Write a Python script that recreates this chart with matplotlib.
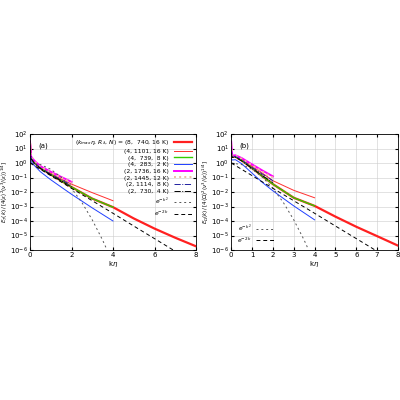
import matplotlib.pyplot as plt
import numpy as np

# k*eta sample points and spectra
k8 = [0, 0.05, 0.2, 0.5, 1, 1.5, 2, 3, 4, 5, 6, 7, 8]
k4 = [0, 0.05, 0.2, 0.5, 1, 1.5, 2, 3, 4]
k2 = [0, 0.05, 0.2, 0.5, 1, 1.5, 2]

# panel (a)
a_8_740 = [20, 2.2, 1.1, 0.45, 0.16, 0.06, 0.022, 3.5e-3, 9e-4, 1.5e-4, 3e-5, 7e-6, 1.8e-6]
a_4_1101 = [25, 2.5, 1.3, 0.5, 0.2, 0.08, 0.035, 9e-3, 2.5e-3]
a_4_739 = [20, 2.2, 1.1, 0.45, 0.16, 0.06, 0.022, 3.5e-3, 9e-4]
a_4_283 = [6, 1.3, 0.7, 0.25, 0.07, 0.022, 7e-3, 8e-4, 1e-4]
a_2_1736 = [30, 2.8, 1.5, 0.6, 0.25, 0.11, 0.05]
a_2_1445 = [25, 2.6, 1.4, 0.55, 0.22, 0.1, 0.045]
a_2_1114 = [15, 2.2, 1.1, 0.45, 0.17, 0.07, 0.03]
a_2_730 = [10, 2.0, 1.0, 0.42, 0.15, 0.06, 0.022]

# panel (b)
b_8_740 = [3, 2.6, 2.8, 1.5, 0.45, 0.12, 0.035, 4e-3, 1.1e-3, 2e-4, 4e-5, 9e-6, 2e-6]
b_4_1101 = [4, 3.0, 3.2, 1.8, 0.6, 0.2, 0.06, 1.3e-2, 4e-3]
b_4_739 = [3, 2.6, 2.8, 1.5, 0.45, 0.12, 0.035, 4e-3, 1.1e-3]
b_4_283 = [2, 1.6, 1.7, 0.9, 0.2, 0.045, 1.2e-2, 1.1e-3, 1.2e-4]
b_2_1736 = [30, 3.2, 3.4, 2.2, 0.8, 0.3, 0.12]
b_2_1445 = [20, 3.0, 3.2, 2.0, 0.7, 0.25, 0.1]
b_2_1114 = [10, 2.6, 2.8, 1.6, 0.5, 0.17, 0.06]
b_2_730 = [5, 2.4, 2.5, 1.4, 0.42, 0.13, 0.045]

# reference lines
kg = [0, 0.5, 1, 1.5, 2, 2.5, 3, 3.5, 3.7]
gauss = [1, 0.78, 0.37, 0.105, 0.018, 1.9e-3, 1.2e-4, 4.8e-6, 1.1e-6]
ke = [0, 1, 2, 3, 4, 5, 6, 6.9]
expo = [1, 0.135, 0.018, 2.5e-3, 3.4e-4, 4.5e-5, 6.1e-6, 1e-6]

labels = [r'$(k_{max}\eta,\,R_\lambda,\,N)$ = (8,  740, 16 K)',
          '(4, 1101, 16 K)', '(4,  739,  8 K)', '(4,  283,  2 K)',
          '(2, 1736, 16 K)', '(2, 1445, 12 K)', '(2, 1114,  8 K)',
          '(2,  730,  4 K)']
styles = [dict(color='#ff2020', lw=1.6),
          dict(color='#ff3030', lw=0.7),
          dict(color='#33cc00', lw=1.0),
          dict(color='#2040ff', lw=0.7),
          dict(color='#ff00ff', lw=1.4),
          dict(color='#f0c0a0', lw=1.4, ls=':'),
          dict(color='#2020a0', lw=0.7, ls='-.'),
          dict(color='black', lw=0.7, ls='-.')]

plt.rcParams['font.size'] = 5
fig = plt.figure(figsize=(4, 4), dpi=100)
ax1 = fig.add_axes([0.075, 0.375, 0.415, 0.29])
ax2 = fig.add_axes([0.578, 0.375, 0.417, 0.29])

sets = [(ax1, [a_8_740, a_4_1101, a_4_739, a_4_283, a_2_1736, a_2_1445, a_2_1114, a_2_730]),
        (ax2, [b_8_740, b_4_1101, b_4_739, b_4_283, b_2_1736, b_2_1445, b_2_1114, b_2_730])]
for ax, series in sets:
    ks = [k8, k4, k4, k4, k2, k2, k2, k2]
    for k, y, lab, st in zip(ks, series, labels, styles):
        ax.plot(k, y, label=lab, **st)
    ax.plot(kg, gauss, color='#555555', lw=0.7, ls=(0, (2, 3)), label=r'$e^{-k^2}$')
    ax.plot(ke, expo, color='black', lw=0.7, ls=(0, (4, 3)), label=r'$e^{-2k}$')
    ax.set_yscale('log')
    ax.set_xlim(0, 8)
    ax.set_ylim(1e-6, 1e2)
    ax.set_xlabel(r'k$\eta$', labelpad=1)
    ax.tick_params(direction='in', length=2, pad=1.5, which='both', top=True, right=True)
    ax.tick_params(which='minor', length=0)
    ax.grid(True, color='#cccccc', lw=0.4)
    for s in ax.spines.values():
        s.set_linewidth(0.6)

ax1.set_ylabel(r'$E_T(k)\,/\,[4\langle\epsilon\rangle^2(\nu^3/\langle\epsilon\rangle)^{1/4}]$',
               labelpad=0.3, fontsize=4.0)
ax2.set_ylabel(r'$E_\Omega(k)\,/\,[4\langle\Omega\rangle^2(\nu^3/\langle\epsilon\rangle)^{1/4}]$',
               labelpad=0.3, fontsize=4.0)
ax1.text(0.05, 0.93, '(a)', transform=ax1.transAxes, va='top')
ax2.text(0.05, 0.93, '(b)', transform=ax2.transAxes, va='top')
ax1.legend(loc='upper right', frameon=False, fontsize=4.3, handlelength=3,
           labelspacing=0.25, borderaxespad=0.3, markerfirst=False)
h, l = ax2.get_legend_handles_labels()
ax2.legend(h[-2:], l[-2:], loc='lower left', frameon=False, fontsize=4.3,
           handlelength=3, labelspacing=0.2, markerfirst=False)

fig.savefig('out.png', dpi=100)
